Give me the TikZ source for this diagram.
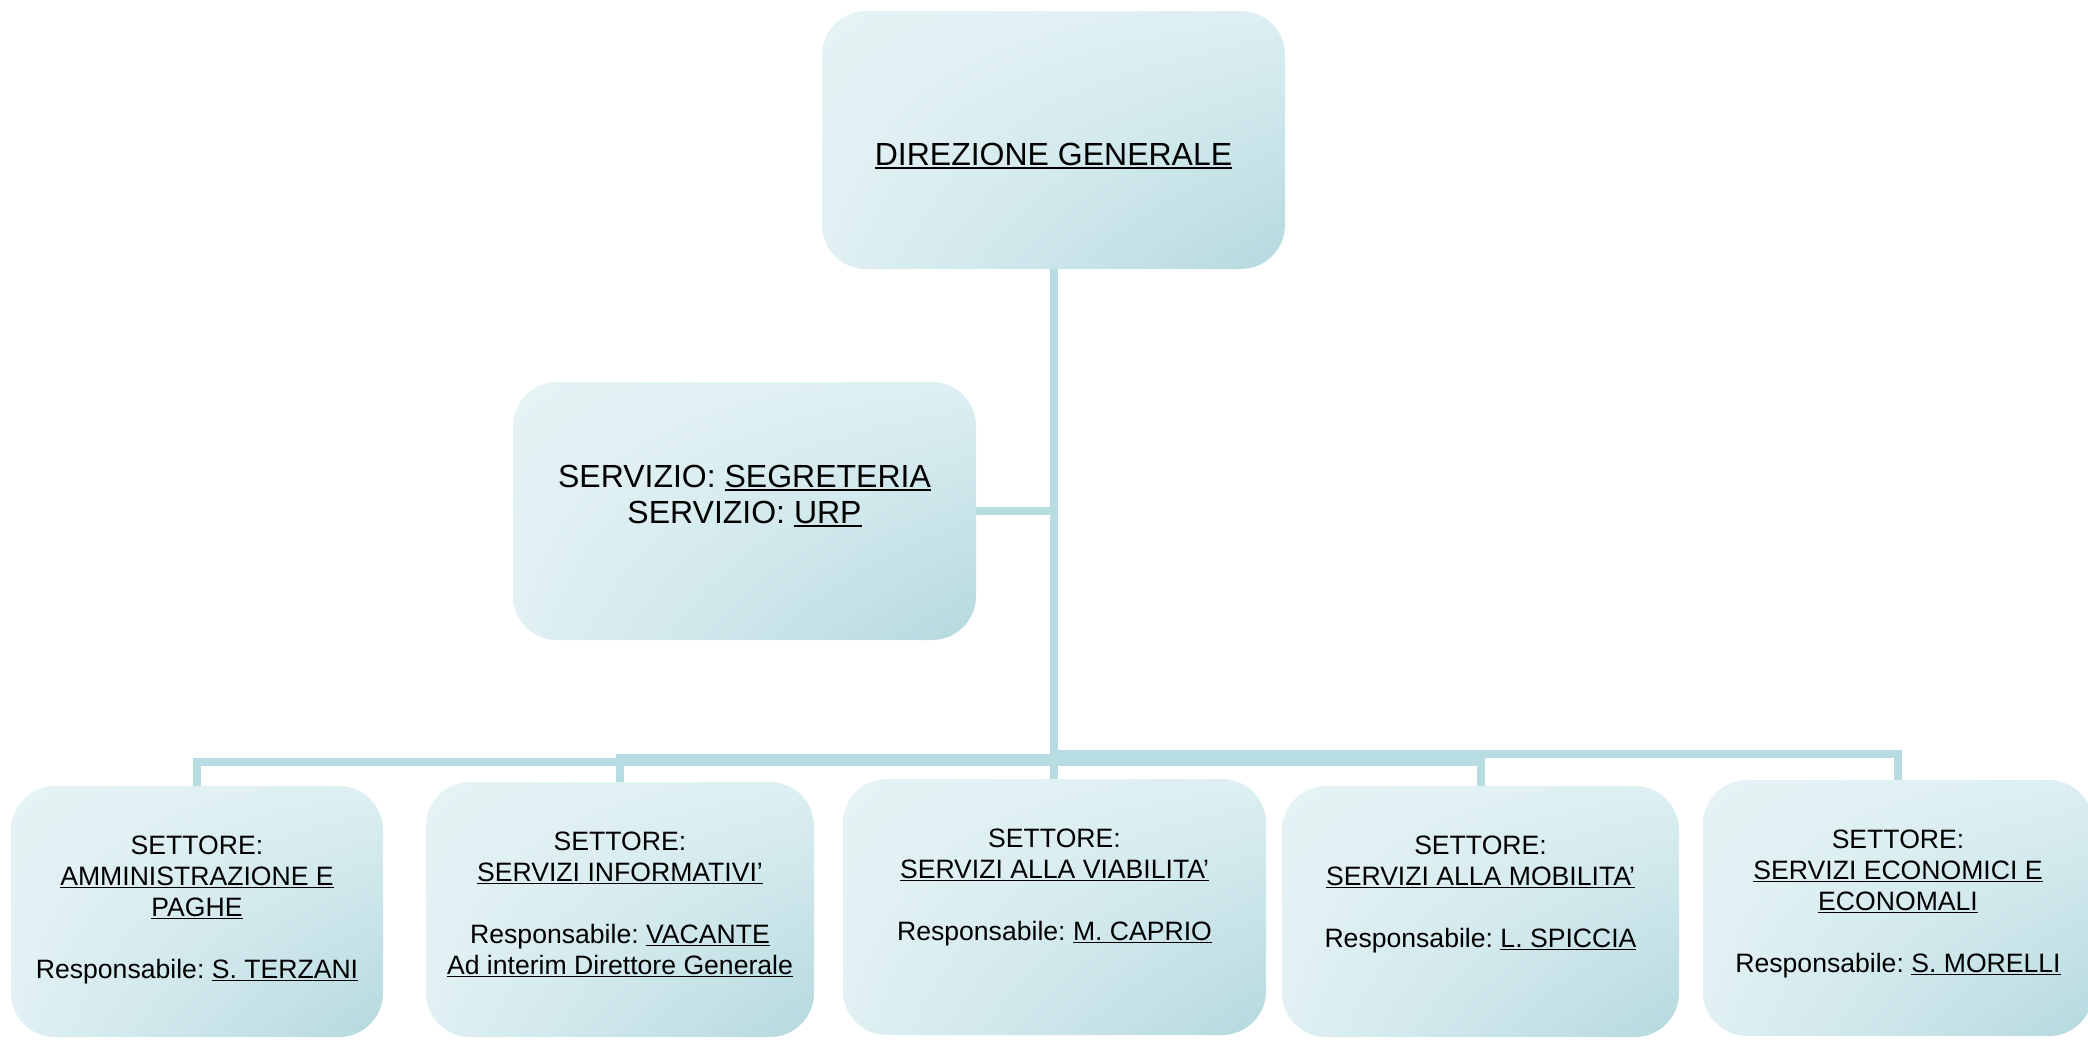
\documentclass[tikz,border=0pt]{standalone}
\usepackage{fontspec}
\setmainfont{Liberation Sans}
\usetikzlibrary{shadings}
\frenchspacing
\newcommand\ulx[1]{\begingroup\setbox0\hbox{#1}\rlap{\rule[-0.1em]{\wd0}{0.06em}}\box0\endgroup}
\definecolor{lineC}{HTML}{B7DCE1}
\definecolor{bxA}{HTML}{E6F3F5}
\definecolor{bxB}{HTML}{DDEFF2}
\definecolor{bxC}{HTML}{E0F0F3}
\definecolor{bxD}{HTML}{B4D9DF}
\tikzset{
  boxS/.style={rectangle, rounded corners=22pt, inner sep=0pt,
    upper left=bxA, upper right=bxB, lower left=bxC, lower right=bxD},
  conn/.style={draw=lineC, line width=4pt},
  bigT/.style={font=\fontsize{16}{18}\selectfont, align=center, inner sep=0pt},
  smallT/.style={font=\fontsize{13.3}{15.5}\selectfont, align=center, inner sep=0pt, anchor=north}
}
\begin{document}
\begin{tikzpicture}[x=0.5pt,y=-0.5pt]
\frenchspacing
\useasboundingbox (0,0) rectangle (2088,1040);
\clip (0,0) rectangle (2088,1040);
% boxes
\node[boxS, minimum width=231.5pt, minimum height=129pt] (top) at (1053.5,140) {};
\node[boxS, minimum width=231.5pt, minimum height=129pt] (seg) at (744.5,511) {};
\node[boxS, minimum width=186pt, minimum height=125.5pt] (b1) at (197,911.5) {};
\node[boxS, minimum width=194pt, minimum height=127.5pt] (b2) at (620,909.5) {};
\node[boxS, minimum width=211.5pt, minimum height=128pt] (b3) at (1054.5,907) {};
\node[boxS, minimum width=198.5pt, minimum height=125.5pt] (b4) at (1480.5,911.5) {};
\node[boxS, minimum width=195pt, minimum height=128pt] (b5) at (1898,908) {};
% connectors
\draw[conn] (top.south) -- (top.south |- b3.north);
\draw[conn] (seg.east) -- (seg.east -| top.south);
\draw[conn] (top.south) |- ([yshift=12pt]b1.north) -- (b1.north);
\draw[conn] (top.south) |- ([yshift=12pt]b2.north) -- (b2.north);
\draw[conn] (top.south) |- ([yshift=12pt]b4.north) -- (b4.north);
\draw[conn] (top.south) |- ([yshift=13pt]b5.north) -- (b5.north);
% texts
\node[bigT] (tTop) at (1053.5,156) {\ulx{DIREZIONE GENERALE}};
\node[bigT] (tSeg) at (744.5,496) {SERVIZIO: \ulx{SEGRETERIA}\\ SERVIZIO: \ulx{URP}};
\node[smallT] (t1) at ([yshift=-25pt]b1.north) {SETTORE:\\ \ulx{AMMINISTRAZIONE E}\\ \ulx{PAGHE}\\[15.5pt] Responsabile: \ulx{S. TERZANI}};
\node[smallT] (t2) at ([yshift=-25pt]b2.north) {SETTORE:\\ \ulx{SERVIZI INFORMATIVI’}\\[15.5pt] Responsabile: \ulx{VACANTE}\\ \ulx{Ad interim Direttore Generale}};
\node[smallT] (t3) at ([yshift=-25pt]b3.north) {SETTORE:\\ \ulx{SERVIZI ALLA VIABILITA’}\\[15.5pt] Responsabile: \ulx{M. CAPRIO}};
\node[smallT] (t4) at ([yshift=-25pt]b4.north) {SETTORE:\\ \ulx{SERVIZI ALLA MOBILITA’}\\[15.5pt] Responsabile: \ulx{L. SPICCIA}};
\node[smallT] (t5) at ([yshift=-25pt]b5.north) {SETTORE:\\ \ulx{SERVIZI ECONOMICI E}\\ \ulx{ECONOMALI}\\[15.5pt] Responsabile: \ulx{S. MORELLI}};
\end{tikzpicture}
\end{document}
